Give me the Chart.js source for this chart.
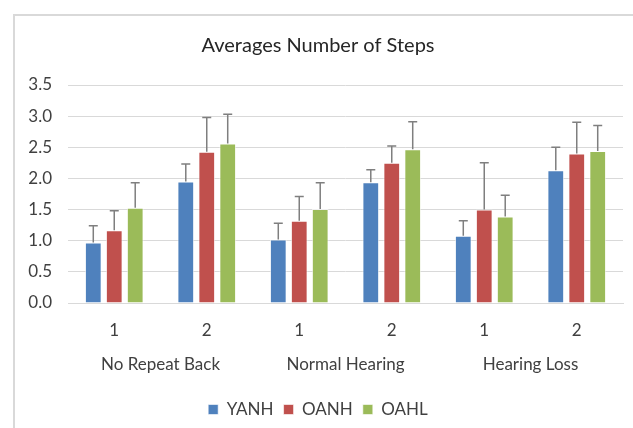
<!DOCTYPE html>
<html>
<head>
<meta charset="utf-8">
<script src="https://cdn.jsdelivr.net/npm/chart.js@4.4.1/dist/chart.umd.min.js"></script>
<style>
  html, body { margin: 0; padding: 0; background: #fff; overflow: hidden; }
  #wrap { position: relative; width: 633px; height: 428px; }
  #frame { position: absolute; left: 13px; top: 14px; width: 700px; height: 500px;
           border-left: 2px solid #d9d9d9; border-top: 2px solid #d9d9d9; }
  canvas { position: absolute; left: 0; top: 0; }
</style>
</head>
<body>
<div id="wrap">
  <div id="frame"></div>
  <canvas id="chart"></canvas>
</div>
<script>
const categories = ['1', '2', '1', '2', '1', '2']
const groups = ['No Repeat Back', 'Normal Hearing', 'Hearing Loss']
const seriesNames = ['YANH', 'OANH', 'OAHL']

const yanh = [0.97, 1.95, 1.02, 1.94, 1.08, 2.13]
const oanh = [1.17, 2.43, 1.32, 2.25, 1.50, 2.40]
const oahl = [1.53, 2.56, 1.51, 2.47, 1.39, 2.44]

// upper error amounts
const yanhErr = [0.27, 0.28, 0.26, 0.20, 0.24, 0.37]
const oanhErr = [0.31, 0.55, 0.39, 0.27, 0.75, 0.50]
const oahlErr = [0.40, 0.47, 0.42, 0.44, 0.34, 0.41]

const colors = ['#4f81bd', '#c0504d', '#9bbb59']
const font = 'Lato, "Open Sans", sans-serif'

const errorBars = {
  id: 'errorBars',
  afterDatasetsDraw(chart) {
    const ctx = chart.ctx
    const y = chart.scales.y
    ctx.save()
    ctx.strokeStyle = '#7f7f7f'
    ctx.lineWidth = 1.5
    chart.data.datasets.forEach((ds, i) => {
      const meta = chart.getDatasetMeta(i)
      meta.data.forEach((bar, j) => {
        const top = y.getPixelForValue(ds.data[j] + ds.errors[j])
        ctx.beginPath()
        ctx.moveTo(bar.x, bar.y)
        ctx.lineTo(bar.x, top)
        ctx.moveTo(bar.x - 4.5, top)
        ctx.lineTo(bar.x + 4.5, top)
        ctx.stroke()
      })
    })
    ctx.restore()
  }
}

const groupLabels = {
  id: 'groupLabels',
  afterDraw(chart) {
    const ctx = chart.ctx
    const x = chart.scales.x
    ctx.save()
    ctx.font = '17px ' + font
    ctx.fillStyle = '#404040'
    ctx.textAlign = 'center'
    ctx.textBaseline = 'middle'
    groups.forEach((g, i) => {
      const cx = (x.getPixelForValue(i * 2) + x.getPixelForValue(i * 2 + 1)) / 2
      ctx.fillText(g, cx, chart.chartArea.bottom + 62)
    })
    ctx.restore()
  }
}

new Chart(document.getElementById('chart'), {
  type: 'bar',
  data: {
    labels: categories,
    datasets: [
      { label: seriesNames[0], data: yanh, errors: yanhErr },
      { label: seriesNames[1], data: oanh, errors: oanhErr },
      { label: seriesNames[2], data: oahl, errors: oahlErr }
    ].map((d, i) => ({
      ...d,
      backgroundColor: colors[i],
      borderColor: 'rgba(255,255,255,0.6)',
      borderWidth: 1,
      categoryPercentage: 0.68,
      barPercentage: 0.8
    }))
  },
  options: {
    responsive: true,
    maintainAspectRatio: false,
    animation: false,
    layout: { padding: { left: 13, right: 10, top: 14, bottom: 0 } },
    plugins: {
      title: {
        display: true,
        text: 'Averages Number of Steps',
        color: '#262626',
        font: { family: font, size: 20, weight: 'normal' },
        padding: { top: 20, bottom: 27 }
      },
      legend: {
        position: 'bottom',
        labels: {
          boxWidth: 10,
          boxHeight: 10,
          padding: 10,
          color: '#404040',
          font: { family: font, size: 17 }
        }
      },
      tooltip: { enabled: false }
    },
    scales: {
      x: {
        grid: { display: false, drawTicks: false },
        border: { color: '#d9d9d9', width: 1 },
        ticks: { color: '#404040', font: { family: font, size: 17 }, padding: 17 },
        afterFit(axis) { axis.height = 88 }
      },
      y: {
        min: 0,
        max: 3.5,
        grid: { color: '#d9d9d9', drawTicks: false },
        border: { display: false },
        ticks: {
          stepSize: 0.5,
          color: '#404040',
          font: { family: font, size: 17 },
          padding: 16,
          callback: v => v.toFixed(1)
        },
        afterFit(axis) { axis.width = 55 }
      }
    }
  },
  plugins: [errorBars, groupLabels]
})
</script>
</body>
</html>
